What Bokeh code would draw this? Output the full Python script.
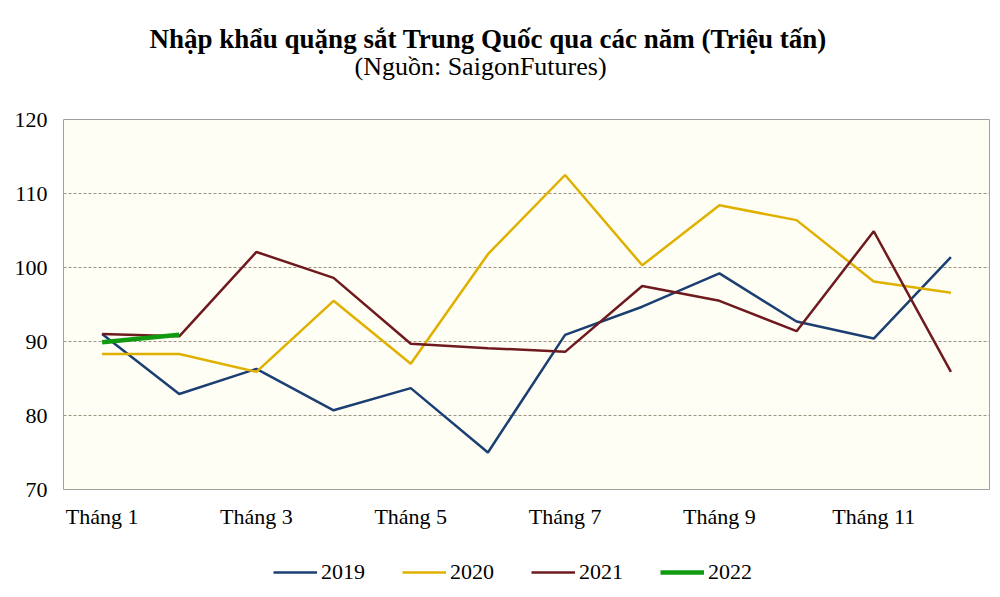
from bokeh.plotting import figure
from bokeh.models import Range1d, FixedTicker, Legend, LegendItem, Title
from bokeh.layouts import column
from bokeh.embed import file_html
from bokeh.resources import INLINE

# Du lieu doc tu hinh (trieu tan)
months = list(range(1, 13))
tick_months = [1, 3, 5, 7, 9, 11]
tick_labels = ["Tháng 1", "Tháng 3", "Tháng 5", "Tháng 7", "Tháng 9", "Tháng 11"]

y2019 = [91.0, 82.9, 86.3, 80.7, 83.7, 75.0, 90.9, 94.7, 99.2, 92.7, 90.4, 101.4]
y2020 = [88.3, 88.3, 85.9, 95.5, 87.0, 101.8, 112.5, 100.3, 108.4, 106.4, 98.1, 96.6]
y2021 = [91.0, 90.7, 102.1, 98.6, 89.7, 89.1, 88.6, 97.5, 95.5, 91.4, 104.9, 85.9]
months_2022 = [1, 2]
y2022 = [89.9, 90.9]

serif = "Liberation Serif"
styles = [("2019", months, y2019, "#1B3F73", 2.5),
          ("2020", months, y2020, "#E0B000", 2.5),
          ("2021", months, y2021, "#6E1A1F", 2.5),
          ("2022", months_2022, y2022, "#109A10", 4.5)]

p = figure(frame_width=926, frame_height=370, output_backend="svg", toolbar_location=None,
           x_range=Range1d(0.5, 12.5), y_range=Range1d(70, 120),
           min_border_left=63, min_border_right=2, min_border_top=10,
           min_border_bottom=50)

p.border_fill_color = "white"
p.background_fill_color = "#FFFEF4"
p.outline_line_color = "#A0A0A0"
p.outline_line_width = 1

# Tieu de (Title " " dung lam khoang trong)
p.add_layout(Title(text=" ", text_font_size="1px", standoff=36), "above")
p.add_layout(Title(text="(Nguồn:  SaigonFutures)", text_font=serif, text_font_size="26px",
                   text_font_style="normal", text_color="black", align="left", offset=291,
                   standoff=0), "above")
p.add_layout(Title(text="Nhập khẩu quặng sắt Trung  Quốc qua các năm (Triệu tấn)", text_font=serif,
                   text_font_size="27px", text_font_style="bold", text_color="black",
                   align="left", offset=86, standoff=-8), "above")
p.add_layout(Title(text=" ", text_font_size="1px", standoff=22), "above")

# Cac duong
for name, xs, ys, color, lw in styles:
    p.line(xs, ys, line_color=color, line_width=lw)

# Truc
p.xaxis.ticker = FixedTicker(ticks=tick_months)
p.xaxis.major_label_overrides = {m: t for m, t in zip(tick_months, tick_labels)}
p.yaxis.ticker = FixedTicker(ticks=[70, 80, 90, 100, 110, 120])
p.axis.axis_line_color = None
p.axis.major_tick_line_color = None
p.axis.minor_tick_line_color = None
p.axis.major_label_text_font = serif
p.axis.major_label_text_font_size = "22px"
p.axis.major_label_text_color = "black"
p.xaxis.major_label_standoff = 8
p.yaxis.major_label_standoff = 10

p.xgrid.grid_line_color = None
p.ygrid.grid_line_color = "#9C9480"
p.ygrid.grid_line_dash = "3 2"
p.ygrid.grid_line_width = 1

# Chu thich: hinh rieng ben duoi (cac duong nam ngoai vung nhin)
lf = figure(frame_width=926, frame_height=50, output_backend="svg", toolbar_location=None,
            x_range=Range1d(100, 101), y_range=Range1d(0, 1),
            x_axis_type=None, y_axis_type=None,
            min_border_left=63, min_border_right=2, min_border_top=0, min_border_bottom=0)
lf.outline_line_color = None
lf.border_fill_color = "white"
lf.background_fill_color = "white"

items = []
for name, xs, ys, color, lw in styles:
    r = lf.line(xs, ys, line_color=color, line_width=lw)
    items.append(LegendItem(label=name, renderers=[r]))

legend = Legend(items=items, orientation="horizontal", location=(210, 4))
legend.label_text_font = serif
legend.label_text_font_size = "22px"
legend.label_text_color = "black"
legend.glyph_width = 44
legend.label_standoff = 4
legend.spacing = 37
legend.border_line_color = None
legend.background_fill_alpha = 0
legend.margin = 0
legend.padding = 0
lf.add_layout(legend)

page = column(p, lf, spacing=0)
open("out.html", "w").write(file_html(page, INLINE))
